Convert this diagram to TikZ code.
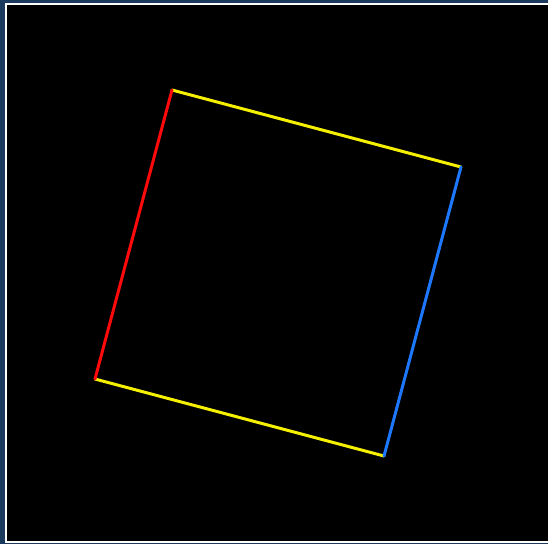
\documentclass[tikz,border=0pt]{standalone}
\usepackage{tikz}
\usetikzlibrary{calc}
\usepackage{xcolor}
\definecolor{mFrame}{HTML}{1C3A5E}
\definecolor{mRed}{HTML}{FF0A0A}
\definecolor{mYellow}{HTML}{F5F000}
\definecolor{mBlue}{HTML}{1E78FF}
\begin{document}
\begin{tikzpicture}[x=1pt, y=-1pt, edge/.style={line width=3pt, line cap=round, line join=round}]
  % window frame and canvas
  \fill[mFrame] (0,0) rectangle (548,544);
  \fill[white] (5,3) rectangle (548,543);
  \fill[black] (7,5) rectangle (548,541);
  \useasboundingbox (0,0) rectangle (548,544);
  % corners of the tilted square
  \coordinate (tl) at (172,90);
  \coordinate (tr) at (461,167);
  \coordinate (br) at (384,456);
  \coordinate (bl) at (95,379);
  \draw[edge, mYellow] (tl) -- (tr);
  \draw[edge, mYellow] (bl) -- (br);
  \draw[edge, mRed] (tl) -- (bl);
  \draw[edge, mBlue] (tr) -- (br);
\end{tikzpicture}
\end{document}
